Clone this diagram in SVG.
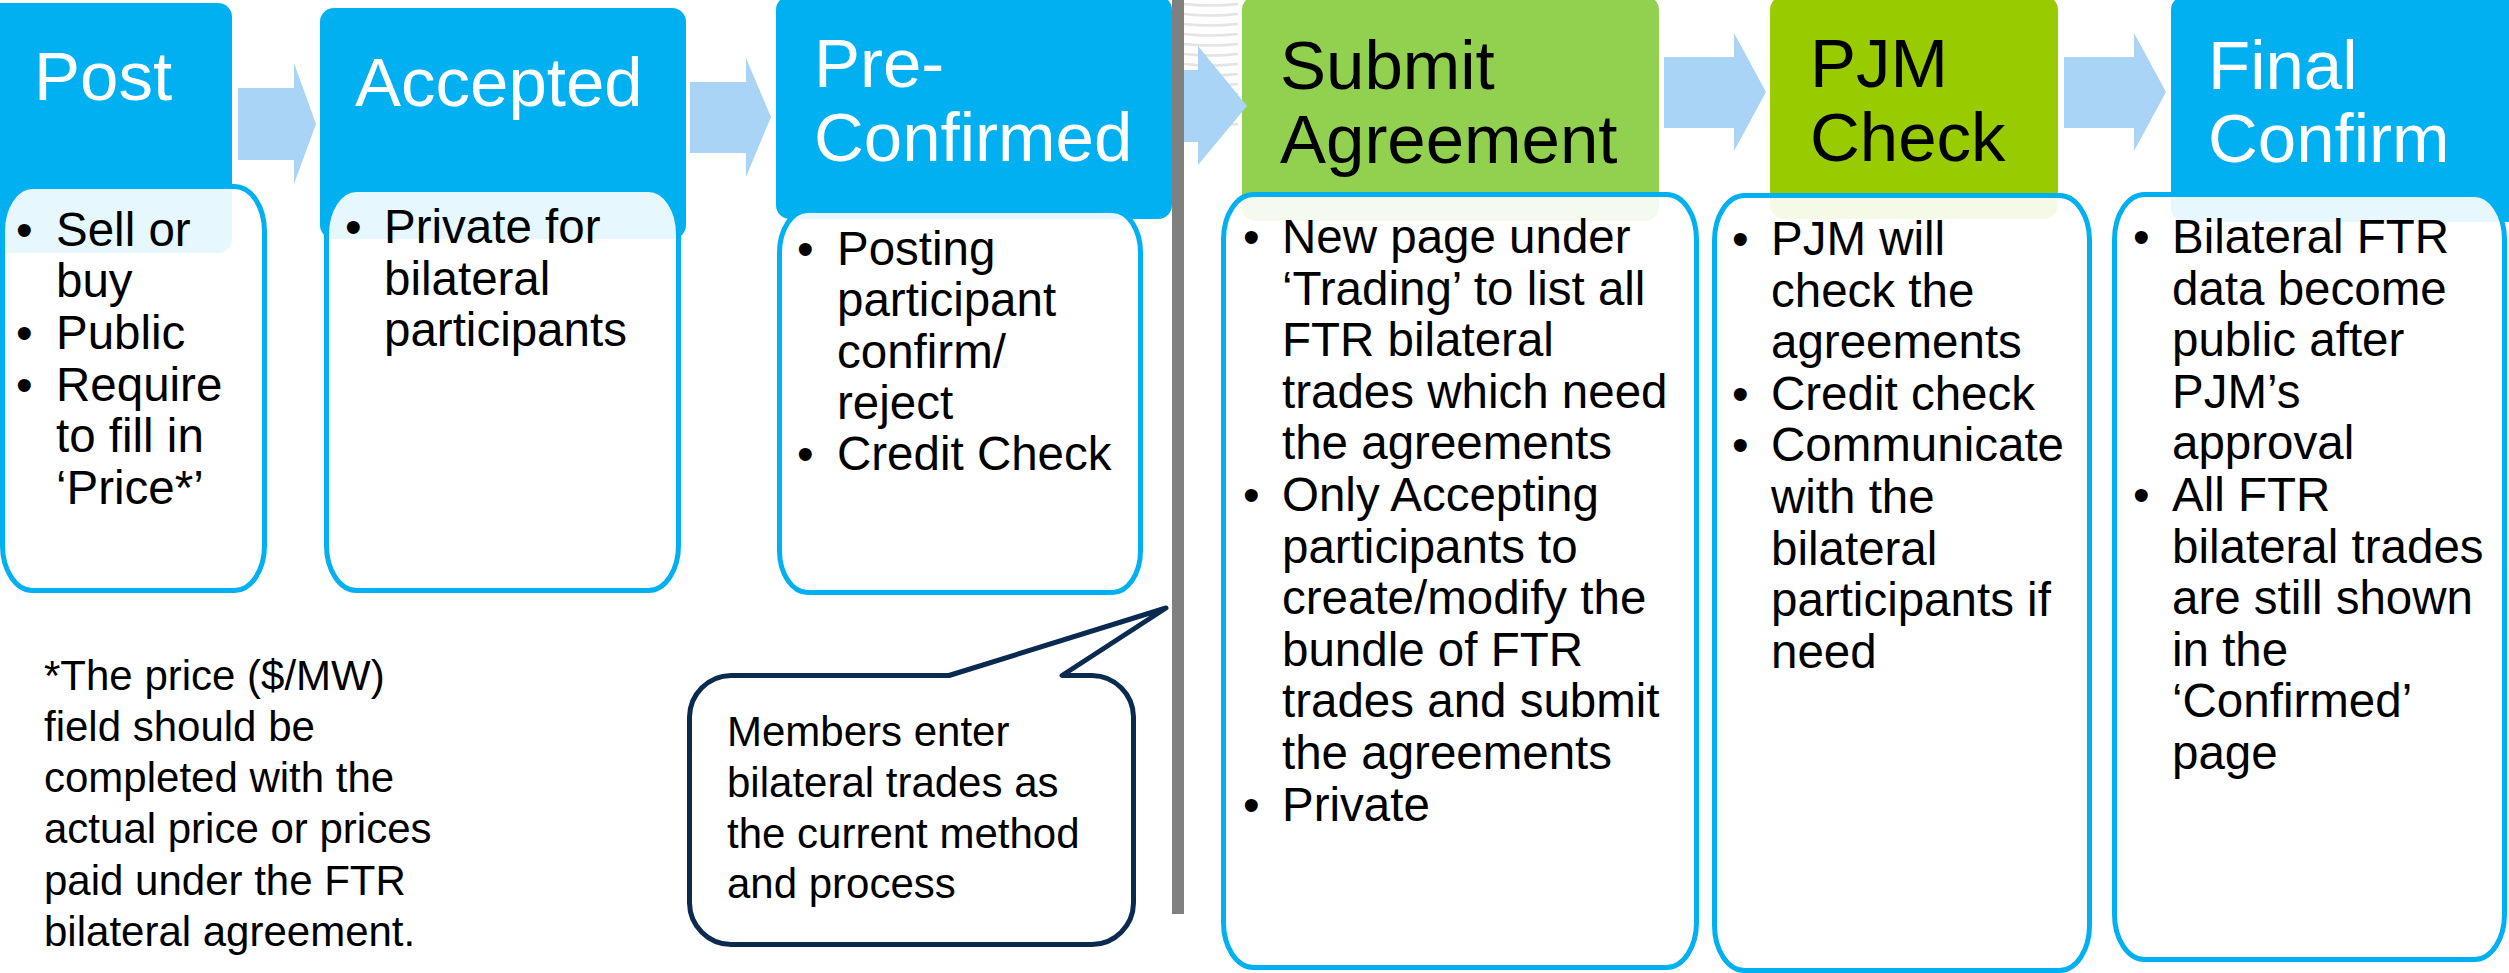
<svg xmlns="http://www.w3.org/2000/svg" width="2509" height="973" viewBox="0 0 2509 973">
<style>
text { font-family: "Liberation Sans", Arial, sans-serif; }
.hb { fill: #00B0F0; }
.hg1 { fill: #92D050; }
.hg2 { fill: #99CC00; }
.ht { font-size: 69px; fill: #FFFFFF; }
.htk { font-size: 69px; fill: #000000; }
.box { fill: #FFFFFF; fill-opacity: 0.9; stroke: #00B0F0; stroke-width: 5; }
.bt { font-size: 47.5px; fill: #000000; }
.arrow { fill: #AAD4F5; }
.note { font-size: 42px; fill: #000000; }
.stripe { stroke: #E4E4E4; stroke-width: 2.5; fill: none; }
.callout { fill: #FFFFFF; stroke: #0B2A4F; stroke-width: 5; stroke-linejoin: round; }
</style>
<rect width="2509" height="973" fill="#FFFFFF"/>
<g id="stripes">
<path class="stripe" d="M1184,4 Q1210,7 1238,4"/>
<path class="stripe" d="M1184,14 Q1210,17 1238,14"/>
<path class="stripe" d="M1184,24 Q1210,27 1238,24"/>
<path class="stripe" d="M1184,34 Q1210,37 1238,34"/>
<path class="stripe" d="M1184,44 Q1210,47 1238,44"/>
<path class="stripe" d="M1184,54 Q1210,57 1238,54"/>
<path class="stripe" d="M1184,64 Q1210,67 1238,64"/>
<path class="stripe" d="M1184,74 Q1210,77 1238,74"/>
<path class="stripe" d="M1184,84 Q1210,87 1238,84"/>
<path class="stripe" d="M1184,94 Q1210,97 1238,94"/>
<path class="stripe" d="M1184,104 Q1210,107 1238,104"/>
<path class="stripe" d="M1184,114 Q1210,117 1238,114"/>
<path class="stripe" d="M1184,124 Q1210,127 1238,124"/>
</g>
<g id="post">
<rect class="hb" x="-20" y="3" width="252" height="250" rx="14"/>
<text class="ht" x="34" y="100">Post</text>
<rect class="box" x="2.5" y="186.5" width="262" height="404" rx="30" ry="45"/>
<text class="bt"><tspan x="16" y="246">•</tspan><tspan x="56" y="246">Sell or</tspan><tspan x="56" y="297">buy</tspan><tspan x="16" y="349">•</tspan><tspan x="56" y="349">Public</tspan><tspan x="16" y="401">•</tspan><tspan x="56" y="401">Require</tspan><tspan x="56" y="452">to fill in</tspan><tspan x="56" y="504">‘Price*’</tspan></text>
</g>
<g id="accepted">
<rect class="hb" x="320" y="8" width="366" height="231" rx="14"/>
<text class="ht" x="355" y="106">Accepted</text>
<rect class="box" x="326.5" y="189.5" width="352" height="401" rx="30" ry="45"/>
<text class="bt"><tspan x="345" y="243">•</tspan><tspan x="384" y="243">Private for</tspan><tspan x="384" y="295">bilateral</tspan><tspan x="384" y="346">participants</tspan></text>
</g>
<g id="preconfirmed">
<rect class="hb" x="776" y="-4" width="396" height="223" rx="14"/>
<text class="ht"><tspan x="814" y="87">Pre-</tspan><tspan x="814" y="161">Confirmed</tspan></text>
<rect class="box" x="779.5" y="210.5" width="361" height="382" rx="28" ry="42"/>
<text class="bt"><tspan x="797" y="265">•</tspan><tspan x="837" y="265">Posting</tspan><tspan x="837" y="316">participant</tspan><tspan x="837" y="368">confirm/</tspan><tspan x="837" y="419">reject</tspan><tspan x="797" y="470">•</tspan><tspan x="837" y="470">Credit Check</tspan></text>
</g>
<g id="submit">
<rect class="hg1" x="1242" y="-4" width="417" height="225" rx="14"/>
<text class="htk"><tspan x="1280" y="89">Submit</tspan><tspan x="1280" y="163">Agreement</tspan></text>
<rect class="box" x="1223.5" y="194.5" width="473" height="773" rx="30" ry="45"/>
<text class="bt"><tspan x="1243" y="253">•</tspan><tspan x="1282" y="253">New page under</tspan><tspan x="1282" y="305">‘Trading’ to list all</tspan><tspan x="1282" y="356">FTR bilateral</tspan><tspan x="1282" y="408">trades which need</tspan><tspan x="1282" y="459">the agreements</tspan><tspan x="1243" y="511">•</tspan><tspan x="1282" y="511">Only Accepting</tspan><tspan x="1282" y="563">participants to</tspan><tspan x="1282" y="614">create/modify the</tspan><tspan x="1282" y="666">bundle of FTR</tspan><tspan x="1282" y="717">trades and submit</tspan><tspan x="1282" y="769">the agreements</tspan><tspan x="1243" y="821">•</tspan><tspan x="1282" y="821">Private</tspan></text>
</g>
<g id="pjmcheck">
<rect class="hg2" x="1770" y="-4" width="288" height="223" rx="14"/>
<text class="htk"><tspan x="1810" y="87">PJM</tspan><tspan x="1810" y="161">Check</tspan></text>
<rect class="box" x="1714.5" y="195.5" width="375" height="775" rx="30" ry="45"/>
<text class="bt"><tspan x="1732" y="255">•</tspan><tspan x="1771" y="255">PJM will</tspan><tspan x="1771" y="307">check the</tspan><tspan x="1771" y="358">agreements</tspan><tspan x="1732" y="410">•</tspan><tspan x="1771" y="410">Credit check</tspan><tspan x="1732" y="461">•</tspan><tspan x="1771" y="461">Communicate</tspan><tspan x="1771" y="513">with the</tspan><tspan x="1771" y="565">bilateral</tspan><tspan x="1771" y="616">participants if</tspan><tspan x="1771" y="668">need</tspan></text>
</g>
<g id="finalconfirm">
<rect class="hb" x="2171" y="-4" width="360" height="226" rx="14"/>
<text class="ht"><tspan x="2208" y="89">Final</tspan><tspan x="2208" y="162">Confirm</tspan></text>
<rect class="box" x="2114.5" y="194.5" width="390" height="765" rx="30" ry="45"/>
<text class="bt"><tspan x="2133" y="253">•</tspan><tspan x="2172" y="253">Bilateral FTR</tspan><tspan x="2172" y="305">data become</tspan><tspan x="2172" y="356">public after</tspan><tspan x="2172" y="408">PJM’s</tspan><tspan x="2172" y="459">approval</tspan><tspan x="2133" y="511">•</tspan><tspan x="2172" y="511">All FTR</tspan><tspan x="2172" y="563">bilateral trades</tspan><tspan x="2172" y="614">are still shown</tspan><tspan x="2172" y="666">in the</tspan><tspan x="2172" y="717">‘Confirmed’</tspan><tspan x="2172" y="769">page</tspan></text>
</g>
<g id="connectors">
<polygon class="arrow" points="238,88 294,88 294,63 316,124 294,184 294,160 238,160"/>
<polygon class="arrow" points="690,82 746,82 746,58 771,117 746,177 746,153 690,153"/>
<polygon class="arrow" points="1180,70 1198,70 1198,46 1247,106 1198,165 1198,142 1180,142"/>
<polygon class="arrow" points="1664,57 1734,57 1734,33 1766,92 1734,151 1734,128 1664,128"/>
<polygon class="arrow" points="2064,57 2134,57 2134,33 2166,92 2134,151 2134,128 2064,128"/>
</g>
<rect id="divider" x="1172" y="0" width="12" height="914" fill="#808080"/>
<g id="footnote">
<text class="note"><tspan x="44" y="690">*The price ($/MW)</tspan><tspan x="44" y="741">field should be</tspan><tspan x="44" y="792">completed with the</tspan><tspan x="44" y="843">actual price or prices</tspan><tspan x="44" y="895">paid under the FTR</tspan><tspan x="44" y="946">bilateral agreement.</tspan></text>
</g>
<g id="callout">
<path class="callout" d="M731,675.5 L949,675.5 L1166,608 L1062,675.5 L1092,675.5 A42,42 0 0 1 1133.5,717 L1133.5,903 A42,42 0 0 1 1092,944.5 L731,944.5 A42,42 0 0 1 689.5,903 L689.5,717 A42,42 0 0 1 731,675.5 Z"/>
<text class="note"><tspan x="727" y="746">Members enter</tspan><tspan x="727" y="797">bilateral trades as</tspan><tspan x="727" y="848">the current method</tspan><tspan x="727" y="898">and process</tspan></text>
</g>
</svg>
